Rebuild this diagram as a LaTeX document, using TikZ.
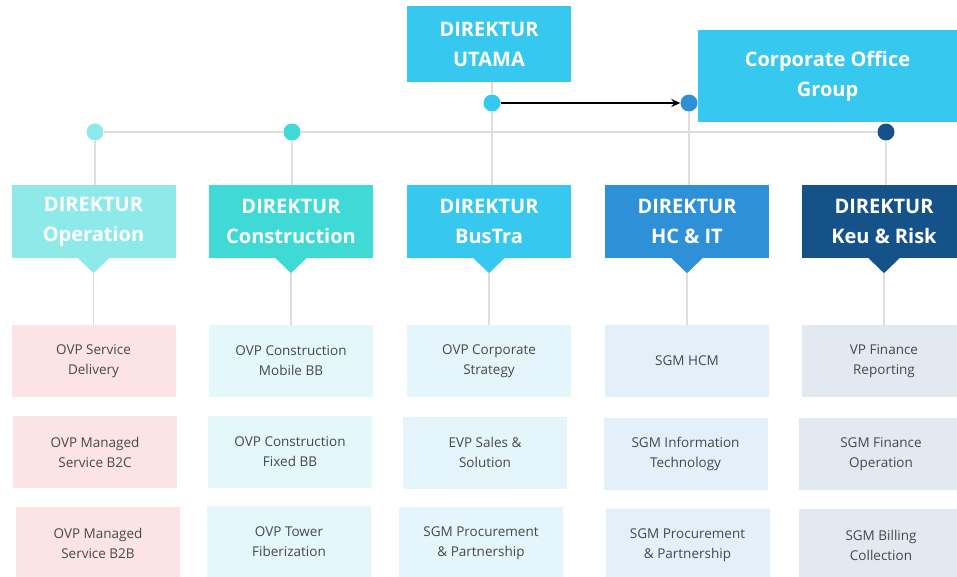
\documentclass[tikz,border=0pt]{standalone}
\usepackage{fontspec}
\setmainfont{Open Sans}
\usetikzlibrary{arrows.meta}

\definecolor{opcol}{HTML}{8EEAE8}
\definecolor{concol}{HTML}{40DAD6}
\definecolor{bustcol}{HTML}{36C8EF}
\definecolor{hccol}{HTML}{2E91D8}
\definecolor{keucol}{HTML}{16528A}
\definecolor{linkcol}{HTML}{DEDEDE}
\definecolor{subtext}{HTML}{484848}
\definecolor{oppale}{HTML}{FCE4E6}
\definecolor{conpale}{HTML}{E4F7FA}
\definecolor{bustpale}{HTML}{E4F6FB}
\definecolor{hcpale}{HTML}{E3F0FA}
\definecolor{keupale}{HTML}{E2E9F1}

\tikzset{
	boss/.style={fill=#1, text=white, align=center, inner sep=0pt,
		font=\bfseries\fontsize{20}{30}\selectfont,
		minimum width=164pt, minimum height=73pt},
	unit/.style={fill=#1, text=subtext, align=center, inner sep=0pt,
		font=\fontsize{13.5}{20}\selectfont,
		minimum width=164pt, minimum height=72pt},
	joint/.style={circle, fill=#1, inner sep=0pt, minimum size=17pt},
	link/.style={draw=linkcol, line width=1.2pt},
}

\begin{document}
\begin{tikzpicture}[x=1pt, y=-1pt]
		\path[use as bounding box, clip] (0,0) rectangle (957,576);

		% top level
		\node[boss=bustcol, minimum height=76pt] (utama) at (489,44) {DIREKTUR\\UTAMA};
		\node[boss=bustcol, minimum width=259pt, minimum height=92pt] (cog) at (827.5,76) {Corporate Office\\Group};
		\node[joint=bustcol] (u) at (492,103) {};
		\node[joint=hccol] (cd) at (689,103) {};
		\draw[-{Stealth[length=9pt,width=8pt]}, line width=1.8pt] (u) -- (cd);

		% directors
		\node[boss=opcol] (d1) at (93.5,221.5) {DIREKTUR\\Operation};
		\node[boss=concol] (d2) at (291,221.5) {DIREKTUR\\Construction};
		\node[boss=bustcol] (d3) at (489,221.5) {DIREKTUR\\BusTra};
		\node[boss=hccol] (d4) at (687,221.5) {DIREKTUR\\HC \& IT};
		\node[boss=keucol] (d5) at (884,221.5) {DIREKTUR\\Keu \& Risk};

		\fill[opcol] (d1.south) ++(-16,-0.5) -- ++(16,15.5) -- ++(16,-15.5) -- cycle;
		\fill[concol] (d2.south) ++(-16,-0.5) -- ++(16,15.5) -- ++(16,-15.5) -- cycle;
		\fill[bustcol] (d3.south) ++(-16,-0.5) -- ++(16,15.5) -- ++(16,-15.5) -- cycle;
		\fill[hccol] (d4.south) ++(-16,-0.5) -- ++(16,15.5) -- ++(16,-15.5) -- cycle;
		\fill[keucol] (d5.south) ++(-16,-0.5) -- ++(16,15.5) -- ++(16,-15.5) -- cycle;
		\path (d1.south) ++(0,15) coordinate (t1);
		\path (d2.south) ++(0,15) coordinate (t2);
		\path (d3.south) ++(0,15) coordinate (t3);
		\path (d4.south) ++(0,15) coordinate (t4);
		\path (d5.south) ++(0,15) coordinate (t5);

		% branch line
		\node[joint=opcol] (j1) at (95,132) {};
		\node[joint=concol] (j2) at (292,132) {};
		\node[joint=keucol] (j5) at (886,132) {};
		\draw[link] (j1) -- (j2) -- (j5);
		\draw[link] (u |- utama.south) -- (u);
		\draw[link] (u) -- (u |- d3.north);
		\draw[link] (cd) -- (cd |- d4.north);
		\draw[link] (j1) -- (j1 |- d1.north);
		\draw[link] (j2) -- (j2 |- d2.north);
		\draw[link] (j5) -- (j5 |- d5.north);

		% units
		\node[unit=oppale] (s11) at (93.5,361) {OVP Service\\Delivery};
		\node[unit=oppale] (s12) at (95,452) {OVP Managed\\Service B2C};
		\node[unit=oppale] (s13) at (98,543) {OVP Managed\\Service B2B};
		\node[unit=conpale] (s21) at (291,361) {OVP Construction\\Mobile BB};
		\node[unit=conpale] (s22) at (290,452) {OVP Construction\\Fixed BB};
		\node[unit=conpale] (s23) at (289,542) {OVP Tower\\Fiberization};
		\node[unit=bustpale] (s31) at (489,361) {OVP Corporate\\Strategy};
		\node[unit=bustpale] (s32) at (485,452.5) {EVP Sales \&\\Solution};
		\node[unit=bustpale] (s33) at (481,543) {SGM Procurement\\\& Partnership};
		\node[unit=hcpale] (s41) at (687,361) {SGM HCM};
		\node[unit=hcpale] (s42) at (685.5,454) {SGM Information\\Technology};
		\node[unit=hcpale] (s43) at (687.5,545) {SGM Procurement\\\& Partnership};
		\node[unit=keupale] (s51) at (884,361) {VP Finance\\Reporting};
		\node[unit=keupale] (s52) at (881,454) {SGM Finance\\Operation};
		\node[unit=keupale] (s53) at (881,545) {SGM Billing\\Collection};

		\draw[link] (t1) -- (t1 |- s11.north);
		\draw[link] (t2) -- (t2 |- s21.north);
		\draw[link] (t3) -- (t3 |- s31.north);
		\draw[link] (t4) -- (t4 |- s41.north);
		\draw[link] (t5) -- (t5 |- s51.north);
	\end{tikzpicture}
\end{document}
